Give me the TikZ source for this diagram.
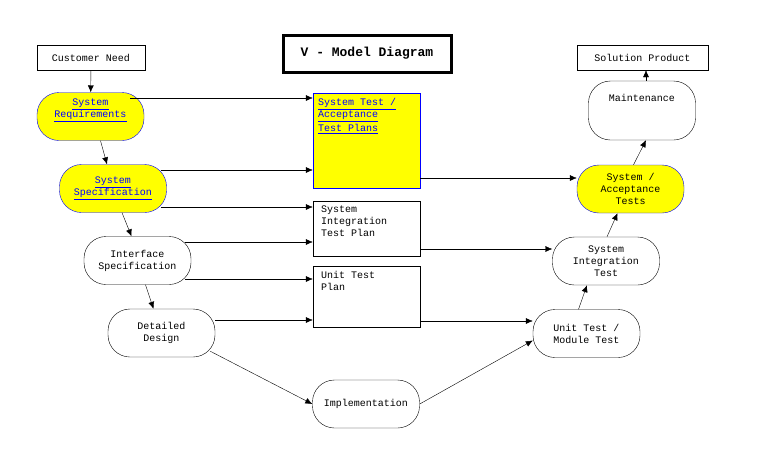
\documentclass[tikz,border=0pt]{standalone}
\usepackage{fontspec}
\setmainfont{Liberation Mono}
\usetikzlibrary{arrows.meta,positioning}
\definecolor{hiyel}{RGB}{255,255,0}
\definecolor{hiblue}{RGB}{0,0,255}
\tikzset{
  box/.style={draw,thin,font=\fontsize{10}{12}\selectfont,inner sep=0pt},
  stage/.style={box,rounded corners=22pt,minimum width=107pt,minimum height=48pt,align=center},
  hstage/.style={stage,fill=hiyel,draw=hiblue},
  plan/.style={box,minimum width=107pt,align=left,text width=97pt},
  ptext/.style={anchor=north west,font=\fontsize{10}{12}\selectfont,align=left,inner sep=0pt},
  flow/.style={-{Latex[length=7pt,width=6pt]},thin}
}
\newcommand{\lnk}[1]{\textcolor{hiblue}{\underline{#1}}}
\begin{document}
\begin{tikzpicture}[x=1pt,y=-1pt]
  \useasboundingbox (0,0) rectangle (769,461);

  \node[box,minimum width=108pt,minimum height=25pt] (need) at (91,57.5) {Customer Need};
  \node[draw,line width=3pt,minimum width=168pt,minimum height=37pt,
    font=\fontsize{13}{15}\selectfont\bfseries] (title) at (367,53.5) {V - Model Diagram};
  \node[box,minimum width=131pt,minimum height=25pt] (sol) at (642.5,57.5) {Solution Product};

  % left leg
  \node[hstage] (req) at (90.5,116.5) {\lnk{System}\\\lnk{Requirements}\\[4pt]};
  \node[hstage] (spec) at (113,188.5) {\lnk{System}\\\lnk{Specification}};
  \node[stage] (intf) at (137.5,260.5) {Interface\\Specification};
  \node[stage] (des) at (161.5,333) {Detailed\\Design};
  \node[stage] (impl) at (366,404) {Implementation};

  % plans
  \node[plan,fill=hiyel,draw=hiblue,minimum height=95pt] (atp) at (366.5,140.5) {};
  \node[ptext] at ([shift={(5,5)}]atp.north west) {\lnk{System Test /}\\\lnk{Acceptance}\\[2pt]\lnk{Test Plans}};
  \node[plan,minimum height=55pt] (sitp) at (366.5,228.5) {};
  \node[ptext] at ([shift={(8,5)}]sitp.north west) {System\\Integration\\Test Plan};
  \node[plan,minimum height=61pt] (utp) at (366.5,296.5) {};
  \node[ptext] at ([shift={(8,5)}]utp.north west) {Unit Test\\Plan};

  % right leg
  \node[stage] (ut) at (586.5,333.5) {Unit Test /\\Module Test};
  \node[stage] (sit) at (606,261) {System\\Integration\\Test};
  \node[hstage] (sat) at (630.5,189) {System /\\Acceptance\\Tests};
  \node[stage,minimum height=59pt] (mnt) at (642,110.5) {Maintenance\\[14pt]};

  % V flow
  \draw[flow] (need) -- (req);
  \draw[flow] ([xshift=10pt]req.south) -- ([xshift=-6pt]spec.north);
  \draw[flow] ([xshift=9pt]spec.south) -- ([xshift=-6pt]intf.north);
  \draw[flow] ([xshift=8pt]intf.south) -- ([xshift=-8pt]des.north);
  \draw[flow] ([shift={(-5,-6)}]des.south east) -- (impl.west);
  \draw[flow] (impl.east) -- ([yshift=-7pt]ut.west);
  \draw[flow] ([xshift=-8pt]ut.north) -- ([xshift=-19pt]sit.south);
  \draw[flow] ([xshift=1pt]sit.north) -- ([xshift=-13pt]sat.south);
  \draw[flow] ([xshift=3pt]sat.north) -- ([xshift=4pt]mnt.south);
  \draw[flow] ([xshift=4pt]mnt.north) -- ([xshift=3.5pt]sol.south);

  % plan links
  \draw[flow] ([xshift=-14pt]req.east |- 0,98) -- (atp.west |- 0,98);
  \draw[flow] ([xshift=-6pt]spec.east |- 0,170) -- (atp.west |- 0,170);
  \draw[flow] ([xshift=-6pt]spec.east |- 0,207) -- (sitp.west |- 0,207);
  \draw[flow] ([xshift=-6pt]intf.east |- 0,242) -- (sitp.west |- 0,242);
  \draw[flow] ([xshift=-6pt]intf.east |- 0,279) -- (utp.west |- 0,279);
  \draw[flow] (des.east |- 0,320) -- (utp.west |- 0,320);
  \draw[flow] (atp.east |- 0,178) -- (sat.west |- 0,178);
  \draw[flow] (sitp.east |- 0,249) -- (sit.west |- 0,249);
  \draw[flow] (utp.east |- 0,321) -- (ut.west |- 0,321);
\end{tikzpicture}
\end{document}
